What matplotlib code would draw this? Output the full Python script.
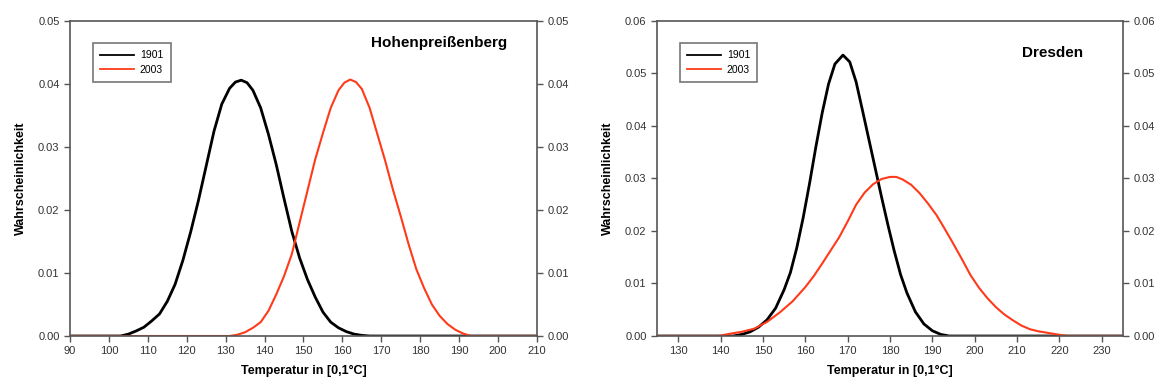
import matplotlib.pyplot as plt

plt.rcParams['font.family'] = ['Liberation Sans', 'DejaVu Sans']
plt.rcParams['lines.solid_joinstyle'] = 'round'

# Hohenpreissenberg, temperature in 0.1 degC vs probability
hp_t_1901 = [90, 103, 105, 107, 109, 111, 113, 115, 117, 119, 121, 123, 125, 127, 129, 131, 132.5, 134,
             135.5, 137, 139, 141, 143, 145, 147, 149, 151, 153, 155, 157, 159, 161, 163, 165, 167, 210]
hp_p_1901 = [0, 0, 0.0003, 0.0008, 0.0014, 0.0024, 0.0035, 0.0055, 0.0082, 0.0120, 0.0165, 0.0215,
             0.0270, 0.0325, 0.0368, 0.0393, 0.0403, 0.0406, 0.0402, 0.0390, 0.0362, 0.0320, 0.0272,
             0.0218, 0.0166, 0.0124, 0.0090, 0.0062, 0.0038, 0.0022, 0.0013, 0.0007, 0.0003, 0.0001, 0, 0]
hp_t_2003 = [90, 131, 133, 135, 137, 139, 141, 143, 145, 147, 149, 151, 153, 155, 157, 159, 160.5, 162,
             163.5, 165, 167, 169, 171, 173, 175, 177, 179, 181, 183, 185, 187, 189, 191, 193, 210]
hp_p_2003 = [0, 0, 0.0002, 0.0006, 0.0013, 0.0022, 0.0040, 0.0066, 0.0095, 0.0130, 0.0180, 0.0230,
             0.0280, 0.0322, 0.0362, 0.0390, 0.0402, 0.0407, 0.0403, 0.0392, 0.0362, 0.0320, 0.0278,
             0.0232, 0.0190, 0.0146, 0.0106, 0.0076, 0.0050, 0.0032, 0.0019, 0.0010, 0.0004, 0, 0]

# Dresden
dd_t_1901 = [125, 143, 145, 147, 149, 151, 153, 155, 156.5, 158, 159.5, 161, 162.5, 164, 165.5, 167,
             168.9, 170.5, 172, 173.5, 175, 176.5, 178, 179.5, 181, 182.5, 184, 186, 188, 190, 192, 194, 235]
dd_p_1901 = [0, 0, 0.0003, 0.0008, 0.0017, 0.0031, 0.0053, 0.0088, 0.0121, 0.0168, 0.0225, 0.0290,
             0.0360, 0.0425, 0.0480, 0.0518, 0.0535, 0.0522, 0.0484, 0.0430, 0.0375, 0.0320, 0.0265,
             0.0212, 0.0162, 0.0117, 0.0082, 0.0046, 0.0023, 0.0010, 0.0003, 0, 0]
dd_t_2003 = [125, 139.5, 142, 145, 148, 151, 154, 157, 160, 162, 164, 166, 168, 170, 172, 174, 176, 178,
             180, 181.5, 183, 185, 187, 189, 191, 193, 195, 197, 199, 201, 203, 205, 207, 209, 211, 213,
             215, 218, 221, 222, 235]
dd_p_2003 = [0, 0, 0.0004, 0.0008, 0.0014, 0.0027, 0.0045, 0.0066, 0.0093, 0.0114, 0.0138, 0.0163,
             0.0188, 0.0218, 0.0250, 0.0273, 0.0289, 0.0299, 0.0303, 0.0303, 0.0298, 0.0288, 0.0272,
             0.0252, 0.0230, 0.0203, 0.0175, 0.0146, 0.0116, 0.0092, 0.0072, 0.0055, 0.0041, 0.0030,
             0.0020, 0.0013, 0.0009, 0.0005, 0.0001, 0, 0]

panels = [
    ("Hohenpreißenberg", hp_t_1901, hp_p_1901, hp_t_2003, hp_p_2003,
     (90, 210), range(90, 211, 10), 0.05, [0.0602, 0.134, 0.4015, 0.812], (0.936, 0.93)),
    ("Dresden", dd_t_1901, dd_p_1901, dd_t_2003, dd_p_2003,
     (125, 235), range(130, 231, 10), 0.06, [0.5649, 0.134, 0.4007, 0.812], (0.914, 0.898)),
]

RED = '#ff3a1a'
SPINE = '#555555'
TXT = '#333333'

fig = plt.figure(figsize=(11.63, 3.88), dpi=100)

for name, t1, p1, t2, p2, xlim, xticks, ymax, rect, title_pos in panels:
    ax = fig.add_axes(rect)
    ax.plot(t1, p1, color='black', lw=2.0, label='1901')
    ax.plot(t2, p2, color=RED, lw=1.5, label='2003')
    ax.set_xlim(*xlim)
    ax.set_ylim(0, ymax)
    ax.set_xticks(list(xticks))
    yt = [round(i * 0.01, 2) for i in range(int(round(ymax * 100)) + 1)]
    ax.set_yticks(yt)
    ax.set_yticklabels([f"{v:.2f}" for v in yt])
    for s in ax.spines.values():
        s.set_color(SPINE)
        s.set_linewidth(1.2)
    ax.tick_params(direction='out', length=4, width=1, colors=SPINE,
                   labelcolor=TXT, labelsize=8)
    ax.set_xlabel("Temperatur in [0,1°C]", fontsize=9, fontweight='bold', labelpad=6)
    ax.set_ylabel("Wahrscheinlichkeit", fontsize=9, fontweight='bold', labelpad=8)
    ax.text(title_pos[0], title_pos[1], name, transform=ax.transAxes, ha='right', va='center',
            fontsize=11, fontweight='bold')
    leg = ax.legend(loc='upper left', bbox_to_anchor=(0.038, 0.947), fontsize=7.5,
                    frameon=True, fancybox=False, handlelength=3.2, borderpad=0.7,
                    labelspacing=0.45, handletextpad=0.6)
    leg.get_frame().set_edgecolor(SPINE)
    leg.get_frame().set_linewidth(1.2)
    for line in leg.get_lines():
        line.set_linewidth(1.3)

    ax2 = ax.twinx()
    ax2.set_ylim(0, ymax)
    ax2.set_yticks(yt)
    ax2.set_yticklabels([f"{v:.2f}" for v in yt])
    ax2.tick_params(direction='out', length=4, width=1, colors=SPINE,
                    labelcolor=TXT, labelsize=8)
    for s in ax2.spines.values():
        s.set_visible(False)

fig.savefig("out.png", dpi=100)
